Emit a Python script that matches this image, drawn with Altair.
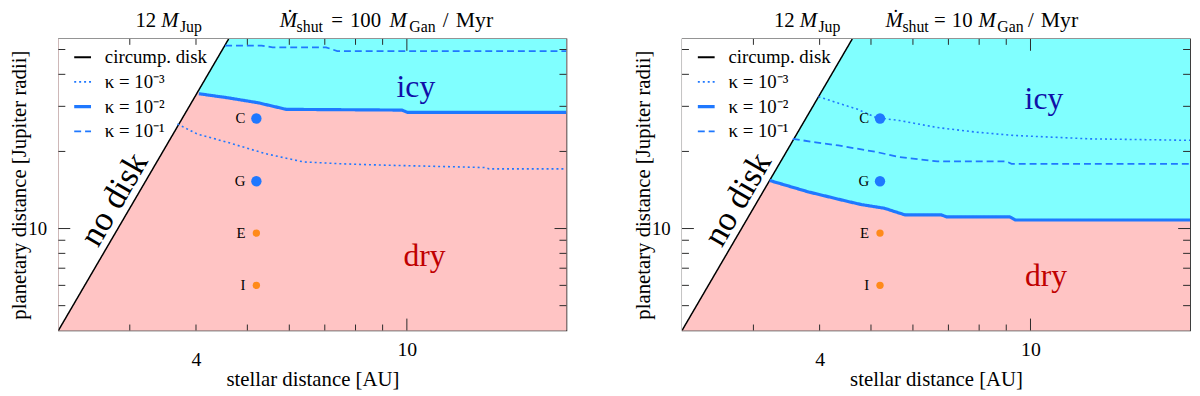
import altair as alt
import pandas as pd

FONT = "Liberation Serif"
BLUE = "#1f78ff"
ORANGE = "#ff8a1a"
CYAN = "#80ffff"
PINK = "#ffc4c4"
FRAME = "#2a2a2a"

# ---------------- data ----------------
x_domain = [2.2, 20]
y_domain = [4, 55]
x_minor_ticks = [3, 4, 5, 6, 7, 8, 9]
x_major_ticks = [10]
y_minor_ticks = [5, 6, 7, 8, 9, 20, 30, 40, 50]
y_major_ticks = [10]
x_labels = [4, 10]
y_labels = [10]

series_names = ["circump. disk", "κ = 10⁻³", "κ = 10⁻²", "κ = 10⁻¹"]

disk_x = [2.2, 4.61]
disk_y = [4.0, 55.0]

moon_names = ["C", "G", "E", "I"]
moon_x = [5.2, 5.2, 5.2, 5.2]
moon_y = [26.9, 15.3, 9.6, 6.0]

# left panel: Mdot_shut = 100 M_Gan / Myr
L_k3_x = [3.69, 4.02, 4.59, 5.41, 6.38, 7.52, 8.87, 14.1, 14.3, 20.0]
L_k3_y = [25.6, 23.4, 21.7, 19.6, 18.2, 17.9, 17.7, 17.3, 17.1, 17.1]
L_k2_x = [4.05, 4.59, 5.23, 5.92, 9.79, 10.03, 20.0]
L_k2_y = [33.6, 32.4, 31.0, 29.2, 29.0, 28.4, 28.4]
L_k1_x = [4.54, 5.32, 5.58, 7.04, 7.39, 20.0]
L_k1_y = [51.8, 51.8, 51.0, 51.0, 49.3, 49.3]

# right panel: Mdot_shut = 10 M_Gan / Myr
R_k3_x = [3.98, 4.72, 5.12, 5.66, 6.67, 7.87, 9.29, 12.9, 20.0]
R_k3_y = [32.7, 29.2, 27.1, 26.4, 24.8, 23.8, 23.1, 22.4, 22.1]
R_k2_x = [3.22, 3.81, 4.49, 4.80, 5.30, 5.80, 6.79, 6.95, 9.14, 9.36, 20.0]
R_k2_y = [15.4, 13.9, 12.8, 12.4, 12.0, 11.3, 11.3, 11.1, 11.1, 10.8, 10.8]
R_k1_x = [3.56, 3.93, 4.34, 5.12, 5.66, 6.67, 8.99, 9.21, 20.0]
R_k1_y = [22.4, 21.7, 21.1, 19.9, 19.0, 18.3, 18.3, 17.9, 17.9]

region_text = ["icy", "dry"]
L_region_x = [10.4, 10.8]
L_region_y = [35.5, 7.8]
R_region_x = [10.6, 10.7]
R_region_y = [32.0, 6.5]
nodisk_x = 2.8
nodisk_y = 13.0

L_title = ["12", "M", "Jup", "Ṁ", "shut", "=", "100", "M", "Gan", "/", "Myr"]
R_title = ["12", "M", "Jup", "Ṁ", "shut", "=", "10", "M", "Gan", "/", "Myr"]

W, H = 514, 295

# ---------------- helpers ----------------
xs = alt.Scale(type="log", domain=x_domain, nice=False, zero=False)
ys = alt.Scale(type="log", domain=y_domain, nice=False, zero=False)

xaxis = alt.Axis(
    values=x_labels, format="d", title="stellar distance [AU]",
    tickSize=0, domain=False, grid=False, labelFlush=False,
    labelFont=FONT, labelFontSize=20, labelColor="black",
    labelPadding={"condition": {"test": "datum.value == 4", "value": 19}, "value": 9},
    titleFont=FONT, titleFontSize=21, titleFontWeight="normal", titleColor="black",
    titlePadding=7, minExtent=32, maxExtent=32,
)
yaxis = alt.Axis(
    values=y_labels, format="d", title="planetary distance [Jupiter radii]",
    tickSize=0, domain=False, grid=False, labelFlush=False,
    labelFont=FONT, labelFontSize=19, labelColor="black", labelPadding=12,
    titleFont=FONT, titleFontSize=21, titleFontWeight="normal", titleColor="black",
    titlePadding=0, minExtent=29, maxExtent=29,
)


def X(f):
    return alt.X(f, type="quantitative", scale=xs, axis=xaxis)


def Y(f):
    return alt.Y(f, type="quantitative", scale=ys, axis=yaxis)


leg = alt.Legend(
    title=None, orient="none", legendX=15, legendY=9, padding=0,
    labelFont=FONT, labelFontSize=19, labelColor="black", labelOffset=13,
    symbolType="stroke", symbolSize=289, rowPadding=5,
    symbolStrokeWidth={"expr": "datum.index == 2 ? 3.4 : (datum.index == 0 ? 2 : 1.8)"},
)

series_width = [1.5, 1.6, 3.2, 1.8]


def panel(k3x, k3y, k2x, k2y, k1x, k1y, rx, ry, title, title_x):
    parts = [(disk_x, disk_y), (k3x, k3y), (k2x, k2y), (k1x, k1y)]
    lines_df = pd.concat([
        pd.DataFrame({"x": px, "y": py, "series": s, "w": w})
        for (px, py), s, w in zip(parts, series_names, series_width)
    ], ignore_index=True)
    icy_df = pd.DataFrame({"x": k2x, "y": k2y})
    disk_df = pd.DataFrame({"x": disk_x, "y": disk_y})
    moons = pd.DataFrame({"name": moon_names, "x": moon_x, "y": moon_y})
    one = pd.DataFrame({"a": [0]})

    pink = alt.Chart(one).mark_rect(color=PINK, opacity=1).encode(
        x=alt.datum(x_domain[0], scale=xs, axis=xaxis), x2=alt.datum(x_domain[1]),
        y=alt.datum(y_domain[0], scale=ys, axis=yaxis), y2=alt.datum(y_domain[1]))
    icy = alt.Chart(icy_df).mark_area(color=CYAN, opacity=1, clip=True).encode(
        x=X("x"), y=Y("y"), y2=alt.datum(y_domain[1]))
    white = alt.Chart(disk_df).mark_area(color="white", opacity=1, clip=True).encode(
        x=X("x"), y=Y("y"), y2=alt.datum(y_domain[1]))
    lines = alt.Chart(lines_df).mark_line(clip=True).encode(
        x=X("x"), y=Y("y"),
        color=alt.Color("series:N", scale=alt.Scale(domain=series_names, range=["black", BLUE, BLUE, BLUE]), legend=leg),
        strokeDash=alt.StrokeDash("series:N", scale=alt.Scale(domain=series_names, range=[[1, 0], [2, 3], [1, 0], [7, 4]]), legend=leg),
        strokeWidth=alt.StrokeWidth("w:Q", scale=None, legend=None),
        detail="series:N",
    )
    big = alt.Chart(moons).transform_filter("datum.name == 'C' || datum.name == 'G'").mark_circle(
        color=BLUE, opacity=1, size=110).encode(x=X("x"), y=Y("y"))
    small = alt.Chart(moons).transform_filter("datum.name == 'E' || datum.name == 'I'").mark_circle(
        color=ORANGE, opacity=1, size=55).encode(x=X("x"), y=Y("y"))
    mlabels = alt.Chart(moons).mark_text(font=FONT, fontSize=15, align="right", baseline="middle", dx=-11, color="black").encode(
        x=X("x"), y=Y("y"), text="name:N")
    reg = pd.DataFrame({"t": region_text, "x": rx, "y": ry})
    icy_t = alt.Chart(reg).transform_filter("datum.t == 'icy'").mark_text(font=FONT, fontSize=32, color="#1010a8", baseline="middle").encode(
        x=X("x"), y=Y("y"), text="t:N")
    dry_t = alt.Chart(reg).transform_filter("datum.t == 'dry'").mark_text(font=FONT, fontSize=32, color="#c00000", baseline="middle").encode(
        x=X("x"), y=Y("y"), text="t:N")
    nd = alt.Chart(pd.DataFrame({"t": ["no disk"], "x": [nodisk_x], "y": [nodisk_y]})).mark_text(
        font=FONT, fontSize=35, color="black", angle=300, align="center", baseline="middle").encode(
        x=X("x"), y=Y("y"), text="t:N")

    tick_len_minor_x, tick_len_major_x = 6, 12
    tick_len_minor_y, tick_len_major_y = 7, 12
    ticks = []
    for vals, ln in [(x_minor_ticks, tick_len_minor_x), (x_major_ticks, tick_len_major_x)]:
        d = pd.DataFrame({"v": vals})
        ticks.append(alt.Chart(d).mark_rule(color=FRAME, strokeWidth=1).encode(
            x=X("v"), y=alt.value(H), y2=alt.value(H - ln)))
        ticks.append(alt.Chart(d).mark_rule(color=FRAME, strokeWidth=1).encode(
            x=X("v"), y=alt.value(0), y2=alt.value(ln)))
    for vals, ln in [(y_minor_ticks, tick_len_minor_y), (y_major_ticks, tick_len_major_y)]:
        d = pd.DataFrame({"v": vals})
        ticks.append(alt.Chart(d).mark_rule(color=FRAME, strokeWidth=1).encode(
            y=Y("v"), x=alt.value(0), x2=alt.value(ln)))
        ticks.append(alt.Chart(d).mark_rule(color=FRAME, strokeWidth=1).encode(
            y=Y("v"), x=alt.value(W), x2=alt.value(W - ln)))

    # title pieces (mixed italic / subscript text)
    styles = [
        (21, "normal", -12), (21, "italic", -12), (16, "normal", -7),
        (21, "italic", -12), (16, "normal", -7), (21, "normal", -12), (21, "normal", -12),
        (21, "italic", -12), (16, "normal", -7), (21, "normal", -12), (22, "normal", -12),
    ]
    tlayers = []
    for txt, px, (fs, st, py) in zip(title, title_x, styles):
        tlayers.append(alt.Chart(one).mark_text(
            text=txt, font=FONT, fontSize=fs, fontStyle=st, align="left",
            baseline="alphabetic", color="black").encode(x=alt.value(px), y=alt.value(py)))

    return alt.layer(pink, icy, white, lines, big, small, mlabels, icy_t, dry_t, nd, *ticks, *tlayers).properties(
        width=W, height=H)


left = panel(L_k3_x, L_k3_y, L_k2_x, L_k2_y, L_k1_x, L_k1_y, L_region_x, L_region_y, L_title,
             [78, 104, 123, 224, 241, 276, 295, 335, 355, 389, 402])
right = panel(R_k3_x, R_k3_y, R_k2_x, R_k2_y, R_k1_x, R_k1_y, R_region_x, R_region_y, R_title,
              [93, 119, 138, 206, 223, 255, 273, 300, 319, 350, 363])

chart = alt.hconcat(left, right, spacing=64).resolve_scale(
    color="independent", strokeDash="independent"
).resolve_legend(
    color="independent", strokeDash="independent"
).properties(
    padding={"left": 0, "top": -2, "right": 0, "bottom": 0}, background="white"
).configure(font=FONT).configure_view(stroke=FRAME, strokeWidth=1.2).configure_legend(labelFont=FONT)

chart.save("out.html", embed_options={"renderer": "svg", "actions": False})
